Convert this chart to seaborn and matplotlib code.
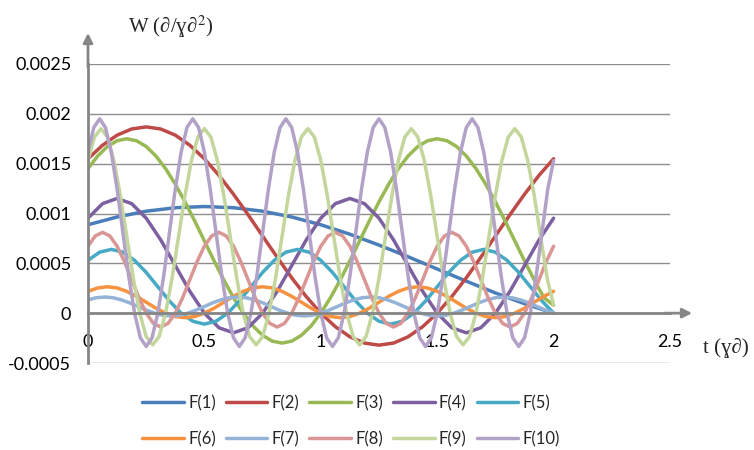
import seaborn as sns
import matplotlib.pyplot as plt
import numpy as np
import pandas as pd

# Valores (t de 0 a 2, muestras equiespaciadas por serie)
nombres = ["F(1)", "F(2)", "F(3)", "F(4)", "F(5)",
           "F(6)", "F(7)", "F(8)", "F(9)", "F(10)"]

f1 = [0.000887, 0.000965, 0.001023, 0.001058, 0.001070, 0.001058, 0.001023, 0.000965,
      0.000887, 0.000792, 0.000683, 0.000566, 0.000443, 0.000321, 0.000203, 0.000095,
      0.0]

f2 = [0.001549, 0.001685, 0.001786, 0.001848, 0.001869, 0.001848, 0.001786, 0.001685,
      0.001549, 0.001383, 0.001193, 0.000988, 0.000774, 0.000561, 0.000355, 0.000166,
      0.0, -0.000136, -0.000237, -0.000300, -0.000321, -0.000300, -0.000237, -0.000136,
      0.0, 0.000166, 0.000355, 0.000561, 0.000774, 0.000988, 0.001193, 0.001383,
      0.001549]

f3 = [0.001450, 0.001577, 0.001672, 0.001730, 0.001750, 0.001730, 0.001672, 0.001577,
      0.001450, 0.001294, 0.001117, 0.000925, 0.000725, 0.000525, 0.000333, 0.000155,
      0.0, -0.000128, -0.000222, -0.000281, -0.000300, -0.000281, -0.000222, -0.000128,
      0.0, 0.000155, 0.000333, 0.000525, 0.000725, 0.000925, 0.001117, 0.001294,
      0.001450, 0.001577, 0.001672, 0.001730, 0.001750, 0.001730, 0.001672, 0.001577,
      0.001450, 0.001294, 0.001117, 0.000925, 0.000725, 0.000525, 0.000333, 0.000155,
      0.00008]

f4 = [0.000953, 0.001099, 0.001151, 0.001099, 0.000953, 0.000735, 0.000477, 0.000219,
      0.0, -0.000146, -0.000197, -0.000146, 0.0, 0.000219, 0.000477, 0.000735,
      0.000953, 0.001099, 0.001151, 0.001099, 0.000953, 0.000735, 0.000477, 0.000219,
      0.0, -0.000146, -0.000197, -0.000146, 0.0, 0.000219, 0.000477, 0.000735,
      0.000953]

f5 = [0.000530, 0.000612, 0.000640, 0.000612, 0.000530, 0.000409, 0.000265, 0.000122,
      0.0, -0.000081, -0.000110, -0.000081, 0.0, 0.000122, 0.000265, 0.000409,
      0.000530, 0.000612, 0.000640, 0.000612, 0.000530, 0.000409, 0.000265, 0.000122,
      0.0, -0.000081, -0.000110, -0.000081, 0.0, 0.000122, 0.000265, 0.000409,
      0.000530, 0.000612, 0.000640, 0.000612, 0.000530, 0.000409, 0.000265, 0.000122,
      0.0]

f6 = [0.000219, 0.000253, 0.000265, 0.000253, 0.000219, 0.000169, 0.000110, 0.000050,
      0.0, -0.000034, -0.000045, -0.000034, 0.0, 0.000050, 0.000110, 0.000169,
      0.000219, 0.000253, 0.000265, 0.000253, 0.000219, 0.000169, 0.000110, 0.000050,
      0.0, -0.000034, -0.000045, -0.000034, 0.0, 0.000050, 0.000110, 0.000169,
      0.000219, 0.000253, 0.000265, 0.000253, 0.000219, 0.000169, 0.000110, 0.000050,
      0.0, -0.000034, -0.000045, -0.000034, 0.0, 0.000050, 0.000110, 0.000169,
      0.000219]

f7 = [0.000134, 0.000155, 0.000162, 0.000155, 0.000134, 0.000104, 0.000067, 0.000031,
      0.0, -0.000021, -0.000028, -0.000021, 0.0, 0.000031, 0.000067, 0.000104,
      0.000134, 0.000155, 0.000162, 0.000155, 0.000134, 0.000104, 0.000067, 0.000031,
      0.0, -0.000021, -0.000028, -0.000021, 0.0, 0.000031, 0.000067, 0.000104,
      0.000134, 0.000155, 0.000162, 0.000155, 0.000134, 0.000104, 0.000067, 0.000031,
      0.0, -0.000021, -0.000028, -0.000021, 0.0, 0.000031, 0.000067, 0.000104,
      0.000134, 0.000155, 0.000162, 0.000155, 0.000134, 0.000104, 0.000067, 0.000031,
      0.0]

f8 = [0.000672, 0.000775, 0.000811, 0.000775, 0.000672, 0.000518, 0.000336, 0.000154,
      0.0, -0.000103, -0.000139, -0.000103, 0.0, 0.000154, 0.000336, 0.000518,
      0.000672, 0.000775, 0.000811, 0.000775, 0.000672, 0.000518, 0.000336, 0.000154,
      0.0, -0.000103, -0.000139, -0.000103, 0.0, 0.000154, 0.000336, 0.000518,
      0.000672, 0.000775, 0.000811, 0.000775, 0.000672, 0.000518, 0.000336, 0.000154,
      0.0, -0.000103, -0.000139, -0.000103, 0.0, 0.000154, 0.000336, 0.000518,
      0.000672, 0.000775, 0.000811, 0.000775, 0.000672, 0.000518, 0.000336, 0.000154,
      0.0, -0.000103, -0.000139, -0.000103, 0.0, 0.000154, 0.000336, 0.000518,
      0.000672]

f9 = [0.001533, 0.001768, 0.001851, 0.001768, 0.001533, 0.001181, 0.000767, 0.000352,
      0.0, -0.000235, -0.000318, -0.000235, 0.0, 0.000352, 0.000767, 0.001181,
      0.001533, 0.001768, 0.001851, 0.001768, 0.001533, 0.001181, 0.000767, 0.000352,
      0.0, -0.000235, -0.000318, -0.000235, 0.0, 0.000352, 0.000767, 0.001181,
      0.001533, 0.001768, 0.001851, 0.001768, 0.001533, 0.001181, 0.000767, 0.000352,
      0.0, -0.000235, -0.000318, -0.000235, 0.0, 0.000352, 0.000767, 0.001181,
      0.001533, 0.001768, 0.001851, 0.001768, 0.001533, 0.001181, 0.000767, 0.000352,
      0.0, -0.000235, -0.000318, -0.000235, 0.0, 0.000352, 0.000767, 0.001181,
      0.001533, 0.001768, 0.001851, 0.001768, 0.001533, 0.001181, 0.000767, 0.000352,
      0.00008]

f10 = [0.001615, 0.001863, 0.001950, 0.001863, 0.001615, 0.001245, 0.000808, 0.000370,
       0.0, -0.000248, -0.000334, -0.000248, 0.0, 0.000370, 0.000808, 0.001245,
       0.001615, 0.001863, 0.001950, 0.001863, 0.001615, 0.001245, 0.000808, 0.000370,
       0.0, -0.000248, -0.000334, -0.000248, 0.0, 0.000370, 0.000808, 0.001245,
       0.001615, 0.001863, 0.001950, 0.001863, 0.001615, 0.001245, 0.000808, 0.000370,
       0.0, -0.000248, -0.000334, -0.000248, 0.0, 0.000370, 0.000808, 0.001245,
       0.001615, 0.001863, 0.001950, 0.001863, 0.001615, 0.001245, 0.000808, 0.000370,
       0.0, -0.000248, -0.000334, -0.000248, 0.0, 0.000370, 0.000808, 0.001245,
       0.001615, 0.001863, 0.001950, 0.001863, 0.001615, 0.001245, 0.000808, 0.000370,
       0.0, -0.000248, -0.000334, -0.000248, 0.0, 0.000370, 0.000808, 0.001245,
       0.001530]

series = [f1, f2, f3, f4, f5, f6, f7, f8, f9, f10]

y_ticks = [-0.0005, 0.0, 0.0005, 0.001, 0.0015, 0.002, 0.0025]
y_labels = ["-0.0005", "0", "0.0005", "0.001", "0.0015", "0.002", "0.0025"]
x_ticks = [0, 0.5, 1, 1.5, 2, 2.5]
x_labels = ["0", "0.5", "1", "1.5", "2", "2.5"]

colores = ["#4A7EBB", "#BE4B48", "#98B954", "#7D60A0", "#46AAC5",
           "#F69240", "#95B3D7", "#D99694", "#C3D69B", "#B3A2C7"]

# Tabla larga para seaborn
partes = []
for nombre, vals in zip(nombres, series):
    t = np.linspace(0, 2, len(vals))
    partes.append(pd.DataFrame({"t": t, "W": vals, "serie": nombre}))
df = pd.concat(partes, ignore_index=True)

sns.set_style("white")
plt.rcParams["font.family"] = ["Lato", "DejaVu Sans"]

gris = "#868686"

fig = plt.figure(figsize=(7.54, 4.5), dpi=100)
ax = fig.add_axes([88 / 754, (450 - 363) / 450, 582 / 754, 299 / 450])

sns.lineplot(data=df, x="t", y="W", hue="serie", hue_order=nombres,
             palette=colores, linewidth=2.5, sort=False, estimator=None,
             legend=False, ax=ax)

ax.set_xlim(0, 2.5)
ax.set_ylim(-0.0005, 0.0025)
ax.set_xticks(x_ticks)
ax.set_xticklabels(x_labels)
ax.set_yticks(y_ticks)
ax.set_yticklabels(y_labels)
ax.set_xlabel("")
ax.set_ylabel("")
ax.tick_params(axis="both", length=0, labelsize=13, colors="black")
ax.tick_params(axis="y", pad=12)
ax.tick_params(axis="x", pad=15)

ax.yaxis.grid(True, color="#8e8e8e", linewidth=1)
ax.set_axisbelow(True)

for lado in ["top", "right"]:
    ax.spines[lado].set_visible(False)
ax.spines["left"].set_color(gris)
ax.spines["left"].set_linewidth(2)
ax.spines["bottom"].set_position(("data", 0))
ax.spines["bottom"].set_color(gris)
ax.spines["bottom"].set_linewidth(2)

# flechas de los ejes
ax.annotate("", xy=(1.038, 0), xycoords=("axes fraction", "data"),
            xytext=(0.99, 0), textcoords=("axes fraction", "data"),
            arrowprops=dict(arrowstyle="-|>", color=gris, lw=2,
                            mutation_scale=14, shrinkA=0, shrinkB=0),
            annotation_clip=False)
ax.annotate("", xy=(0, 1.104), xycoords="axes fraction",
            xytext=(0, 0.99), textcoords="axes fraction",
            arrowprops=dict(arrowstyle="-|>", color=gris, lw=2,
                            mutation_scale=14, shrinkA=0, shrinkB=0),
            annotation_clip=False)

serif = ["Liberation Serif", "DejaVu Serif"]
fig.text(128 / 754, 1 - 27 / 450, "W (∂/ɣ∂$^{2}$)", family=serif, fontsize=15,
         ha="left", va="center", math_fontfamily="stix")
fig.text(703 / 754, 1 - 348 / 450, "t (ɣ∂)", family=serif, fontsize=15,
         ha="left", va="center")

# leyenda en dos filas (orden por filas)
lineas = ax.lines[:10]
orden = [0, 5, 1, 6, 2, 7, 3, 8, 4, 9]
fig.legend([lineas[i] for i in orden], [nombres[i] for i in orden],
           loc="center", bbox_to_anchor=(351 / 754, 1 - 421 / 450),
           ncol=5, frameon=False, fontsize=12, handlelength=2.5,
           handletextpad=0.25, columnspacing=0.6, labelspacing=1.2)

fig.savefig("out.png", dpi=100)
